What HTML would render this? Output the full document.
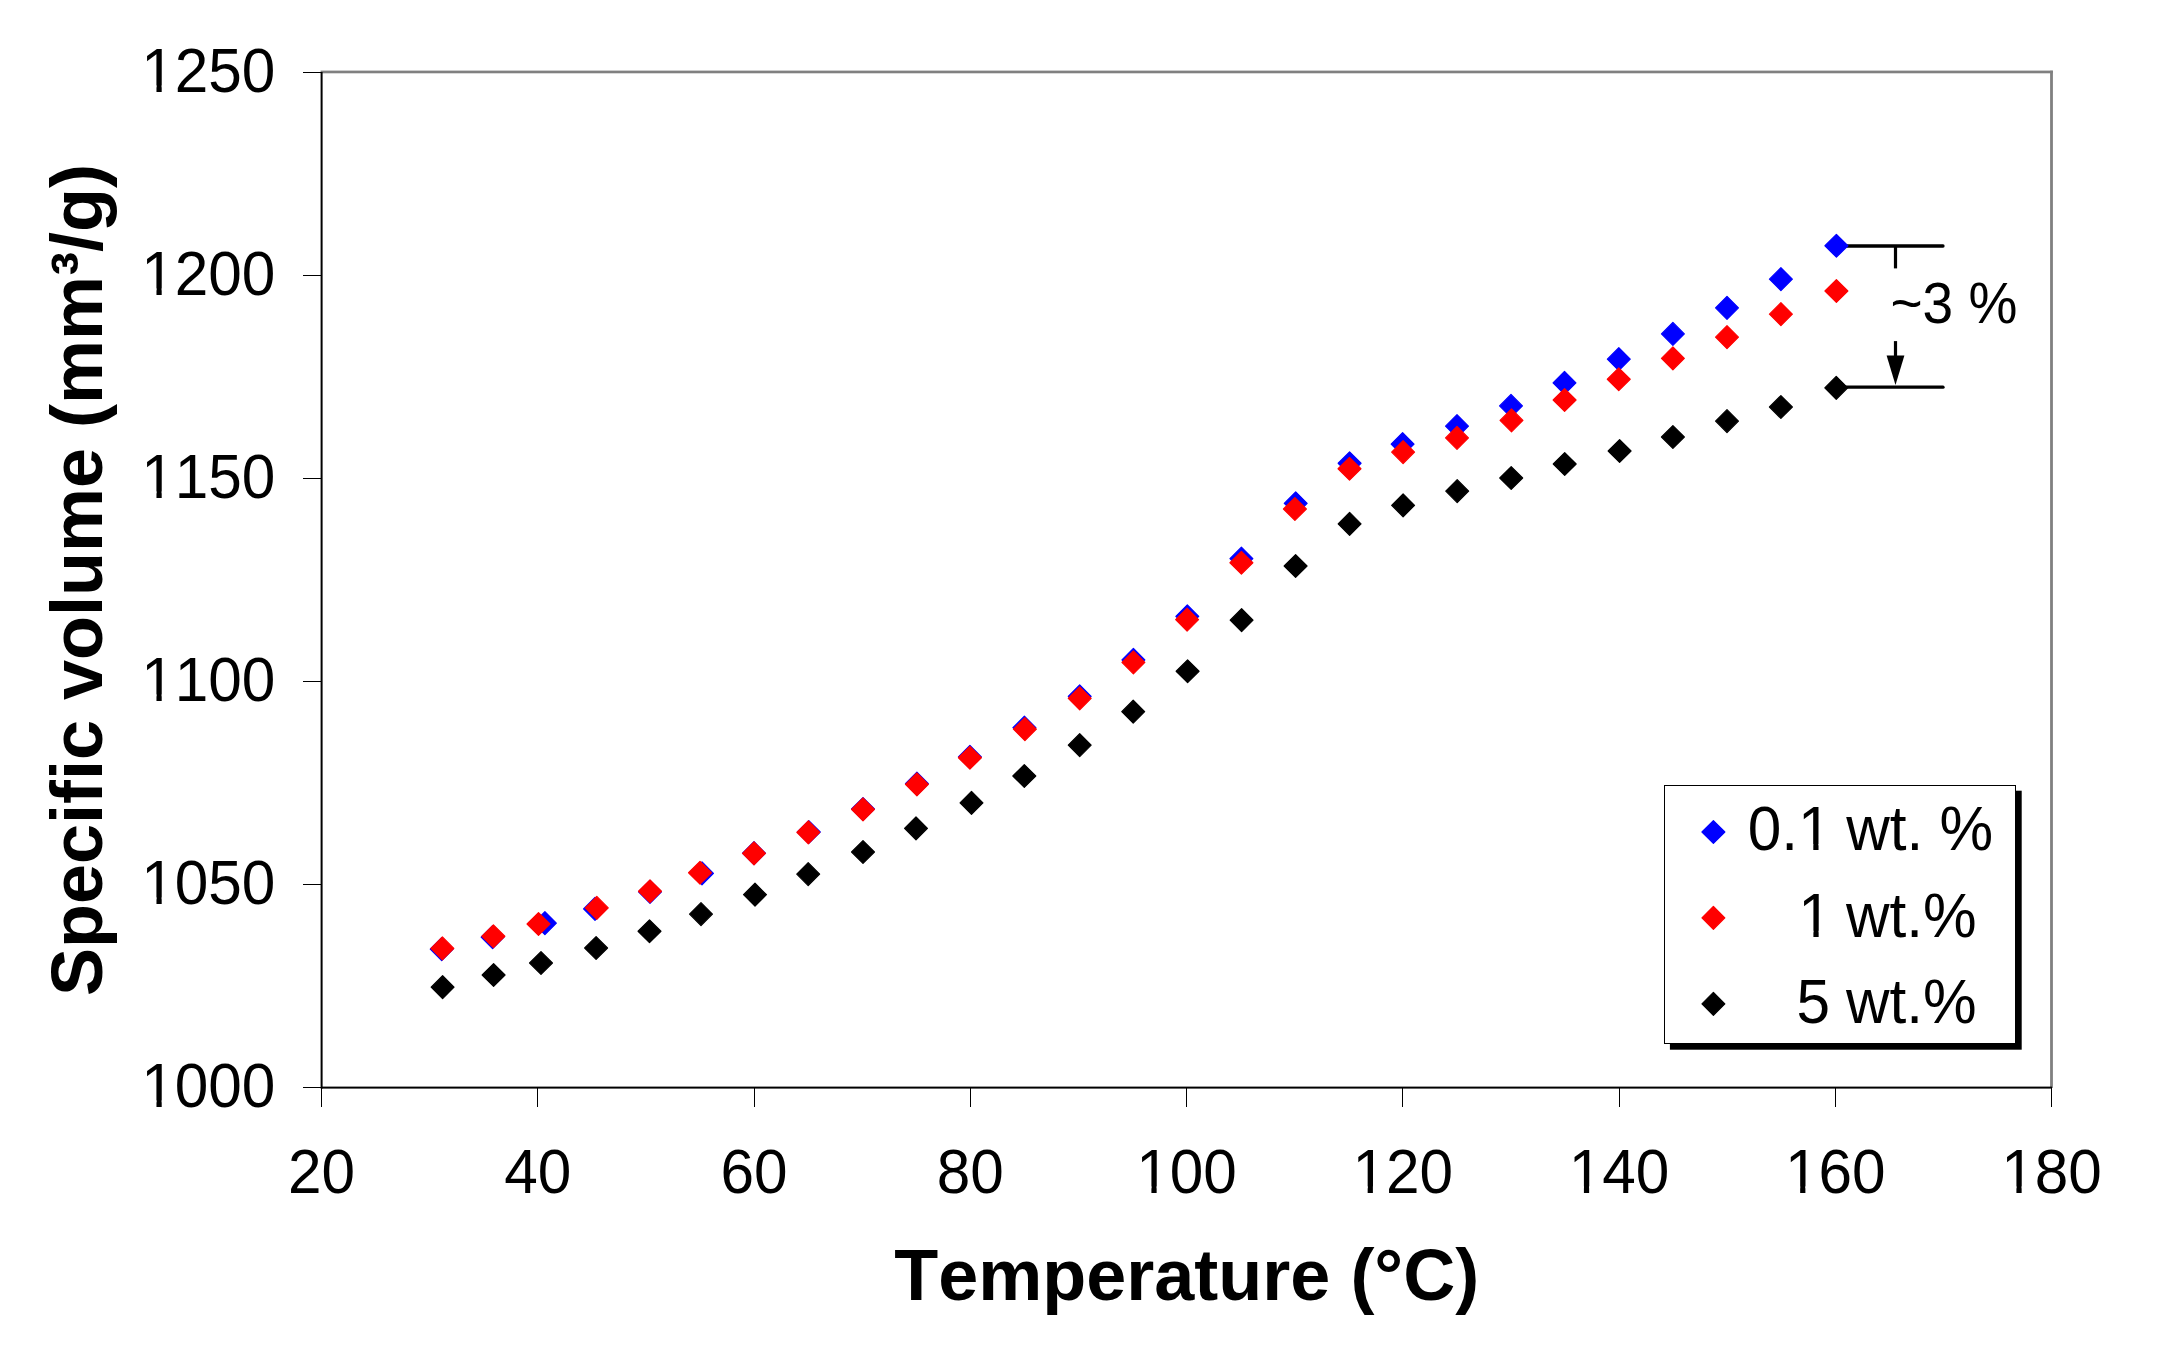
<!DOCTYPE html>
<html lang="en"><head><meta charset="utf-8"><title>Specific volume vs temperature</title>
<style>
html,body{margin:0;padding:0;background:#fff;}
body{width:2172px;height:1368px;overflow:hidden;}
svg{display:block;}
text{font-family:"Liberation Sans",Arial,Helvetica,sans-serif;fill:#000;font-kerning:none;font-variant-ligatures:none;}
.t text{font-size:60.3px;}
.b{font-size:72px;font-weight:bold;}
</style></head><body>
<svg width="2172" height="1368" viewBox="0 0 2172 1368">
<rect width="2172" height="1368" fill="#fff"/>
<g fill="#808080"><rect x="320.6" y="70.6" width="1732.3" height="2.7"/><rect x="2050.1" y="70.7" width="2.8" height="1017.3"/></g>
<g fill="#000"><rect x="320.6" y="72" width="2" height="1016.6"/><rect x="321" y="1086.6" width="1731" height="2"/><rect x="303" y="72.00" width="18.5" height="1"/><rect x="303" y="275.00" width="18.5" height="1"/><rect x="303" y="478.00" width="18.5" height="1"/><rect x="303" y="681.00" width="18.5" height="1"/><rect x="303" y="884.00" width="18.5" height="1"/><rect x="303" y="1087.00" width="18.5" height="1"/><rect x="321" y="1087" width="1" height="20"/><rect x="537" y="1087" width="1" height="20"/><rect x="754" y="1087" width="1" height="20"/><rect x="970" y="1087" width="1" height="20"/><rect x="1186" y="1087" width="1" height="20"/><rect x="1402" y="1087" width="1" height="20"/><rect x="1619" y="1087" width="1" height="20"/><rect x="1835" y="1087" width="1" height="20"/><rect x="2051" y="1087" width="1" height="20"/></g>
<g class="t"><text transform="translate(141.26 91.60) scale(1 1.04)">1250</text><text transform="translate(141.26 294.60) scale(1 1.04)">1200</text><text transform="translate(141.26 497.60) scale(1 1.04)">1150</text><text transform="translate(141.26 700.60) scale(1 1.04)">1100</text><text transform="translate(141.26 903.60) scale(1 1.04)">1050</text><text transform="translate(141.26 1106.60) scale(1 1.04)">1000</text></g>
<g class="t"><text transform="translate(287.96 1192.60) scale(1 1.04)">20</text><text transform="translate(504.21 1192.60) scale(1 1.04)">40</text><text transform="translate(720.46 1192.60) scale(1 1.04)">60</text><text transform="translate(936.71 1192.60) scale(1 1.04)">80</text><text transform="translate(1136.20 1192.60) scale(1 1.04)">100</text><text transform="translate(1352.45 1192.60) scale(1 1.04)">120</text><text transform="translate(1568.70 1192.60) scale(1 1.04)">140</text><text transform="translate(1784.95 1192.60) scale(1 1.04)">160</text><text transform="translate(2001.20 1192.60) scale(1 1.04)">180</text></g>
<text class="b" style="font-size:72px" text-anchor="middle" x="1186.7" y="1300">Temperature (°C)</text>
<text class="b" style="font-size:72px" text-anchor="middle" transform="translate(102 580) rotate(-90)">Specific volume (mm³/g)</text>
<g stroke="#000" stroke-width="3.3" stroke-linecap="round" fill="none"><path d="M1840 246H1943"/><path d="M1840 387.2H1943"/></g>
<g stroke="#000" stroke-width="3.2" fill="none"><path d="M1895.5 246V268.4"/><path d="M1895.5 341.1V358"/></g>
<path d="M1886.6 355.4H1904.4L1895.5 385Z" fill="#000"/>
<text transform="translate(1890.40 322.60) scale(1 1.04)" style="font-size:55px">~3 %</text>
<g fill="#0000ff" stroke="#0000ff" stroke-width="1.2" stroke-linejoin="round"><path d="M441.70 937.65L453.15 949.10L441.70 960.55L430.25 949.10Z"/><path d="M492.60 925.75L504.05 937.20L492.60 948.65L481.15 937.20Z"/><path d="M544.90 911.75L556.35 923.20L544.90 934.65L533.45 923.20Z"/><path d="M595.00 897.45L606.45 908.90L595.00 920.35L583.55 908.90Z"/><path d="M650.00 880.45L661.45 891.90L650.00 903.35L638.55 891.90Z"/><path d="M702.00 861.85L713.45 873.30L702.00 884.75L690.55 873.30Z"/><path d="M754.00 841.75L765.45 853.20L754.00 864.65L742.55 853.20Z"/><path d="M808.80 820.55L820.25 832.00L808.80 843.45L797.35 832.00Z"/><path d="M863.00 797.55L874.45 809.00L863.00 820.45L851.55 809.00Z"/><path d="M916.90 772.15L928.35 783.60L916.90 795.05L905.45 783.60Z"/><path d="M969.90 745.35L981.35 756.80L969.90 768.25L958.45 756.80Z"/><path d="M1024.40 716.25L1035.85 727.70L1024.40 739.15L1012.95 727.70Z"/><path d="M1079.70 684.85L1091.15 696.30L1079.70 707.75L1068.25 696.30Z"/><path d="M1133.40 648.45L1144.85 659.90L1133.40 671.35L1121.95 659.90Z"/><path d="M1187.30 604.85L1198.75 616.30L1187.30 627.75L1175.85 616.30Z"/><path d="M1241.40 547.15L1252.85 558.60L1241.40 570.05L1229.95 558.60Z"/><path d="M1295.70 491.85L1307.15 503.30L1295.70 514.75L1284.25 503.30Z"/><path d="M1349.60 451.80L1361.05 463.25L1349.60 474.70L1338.15 463.25Z"/><path d="M1402.60 432.65L1414.05 444.10L1402.60 455.55L1391.15 444.10Z"/><path d="M1457.00 414.75L1468.45 426.20L1457.00 437.65L1445.55 426.20Z"/><path d="M1511.00 394.45L1522.45 405.90L1511.00 417.35L1499.55 405.90Z"/><path d="M1564.50 371.45L1575.95 382.90L1564.50 394.35L1553.05 382.90Z"/><path d="M1618.80 347.75L1630.25 359.20L1618.80 370.65L1607.35 359.20Z"/><path d="M1672.90 322.45L1684.35 333.90L1672.90 345.35L1661.45 333.90Z"/><path d="M1727.00 296.35L1738.45 307.80L1727.00 319.25L1715.55 307.80Z"/><path d="M1780.90 267.75L1792.35 279.20L1780.90 290.65L1769.45 279.20Z"/><path d="M1836.40 234.30L1847.85 245.75L1836.40 257.20L1824.95 245.75Z"/></g>
<g fill="#ff0000" stroke="#ff0000" stroke-width="1.2" stroke-linejoin="round"><path d="M442.40 936.95L453.85 948.40L442.40 959.85L430.95 948.40Z"/><path d="M493.40 924.80L504.85 936.25L493.40 947.70L481.95 936.25Z"/><path d="M538.50 912.55L549.95 924.00L538.50 935.45L527.05 924.00Z"/><path d="M596.80 896.45L608.25 907.90L596.80 919.35L585.35 907.90Z"/><path d="M650.00 879.80L661.45 891.25L650.00 902.70L638.55 891.25Z"/><path d="M700.00 861.30L711.45 872.75L700.00 884.20L688.55 872.75Z"/><path d="M754.00 841.85L765.45 853.30L754.00 864.75L742.55 853.30Z"/><path d="M808.30 820.85L819.75 832.30L808.30 843.75L796.85 832.30Z"/><path d="M863.00 797.95L874.45 809.40L863.00 820.85L851.55 809.40Z"/><path d="M916.90 772.95L928.35 784.40L916.90 795.85L905.45 784.40Z"/><path d="M969.90 746.30L981.35 757.75L969.90 769.20L958.45 757.75Z"/><path d="M1024.90 717.75L1036.35 729.20L1024.90 740.65L1013.45 729.20Z"/><path d="M1079.70 686.85L1091.15 698.30L1079.70 709.75L1068.25 698.30Z"/><path d="M1133.40 650.95L1144.85 662.40L1133.40 673.85L1121.95 662.40Z"/><path d="M1187.10 608.15L1198.55 619.60L1187.10 631.05L1175.65 619.60Z"/><path d="M1241.40 551.30L1252.85 562.75L1241.40 574.20L1229.95 562.75Z"/><path d="M1294.90 497.55L1306.35 509.00L1294.90 520.45L1283.45 509.00Z"/><path d="M1349.50 457.30L1360.95 468.75L1349.50 480.20L1338.05 468.75Z"/><path d="M1403.10 440.65L1414.55 452.10L1403.10 463.55L1391.65 452.10Z"/><path d="M1457.00 426.45L1468.45 437.90L1457.00 449.35L1445.55 437.90Z"/><path d="M1511.50 408.95L1522.95 420.40L1511.50 431.85L1500.05 420.40Z"/><path d="M1564.60 388.55L1576.05 400.00L1564.60 411.45L1553.15 400.00Z"/><path d="M1618.75 367.80L1630.20 379.25L1618.75 390.70L1607.30 379.25Z"/><path d="M1672.90 346.95L1684.35 358.40L1672.90 369.85L1661.45 358.40Z"/><path d="M1727.00 325.75L1738.45 337.20L1727.00 348.65L1715.55 337.20Z"/><path d="M1780.90 302.75L1792.35 314.20L1780.90 325.65L1769.45 314.20Z"/><path d="M1836.40 279.55L1847.85 291.00L1836.40 302.45L1824.95 291.00Z"/></g>
<g fill="#000000" stroke="#000000" stroke-width="1.2" stroke-linejoin="round"><path d="M442.60 975.75L454.05 987.20L442.60 998.65L431.15 987.20Z"/><path d="M493.60 963.55L505.05 975.00L493.60 986.45L482.15 975.00Z"/><path d="M541.00 951.55L552.45 963.00L541.00 974.45L529.55 963.00Z"/><path d="M596.10 936.55L607.55 948.00L596.10 959.45L584.65 948.00Z"/><path d="M649.50 919.80L660.95 931.25L649.50 942.70L638.05 931.25Z"/><path d="M701.00 902.65L712.45 914.10L701.00 925.55L689.55 914.10Z"/><path d="M755.00 883.25L766.45 894.70L755.00 906.15L743.55 894.70Z"/><path d="M808.20 862.65L819.65 874.10L808.20 885.55L796.75 874.10Z"/><path d="M863.00 840.55L874.45 852.00L863.00 863.45L851.55 852.00Z"/><path d="M916.00 816.85L927.45 828.30L916.00 839.75L904.55 828.30Z"/><path d="M971.50 791.45L982.95 802.90L971.50 814.35L960.05 802.90Z"/><path d="M1024.30 764.55L1035.75 776.00L1024.30 787.45L1012.85 776.00Z"/><path d="M1079.70 733.65L1091.15 745.10L1079.70 756.55L1068.25 745.10Z"/><path d="M1133.20 700.25L1144.65 711.70L1133.20 723.15L1121.75 711.70Z"/><path d="M1187.60 659.80L1199.05 671.25L1187.60 682.70L1176.15 671.25Z"/><path d="M1241.60 608.75L1253.05 620.20L1241.60 631.65L1230.15 620.20Z"/><path d="M1295.60 554.55L1307.05 566.00L1295.60 577.45L1284.15 566.00Z"/><path d="M1349.60 512.45L1361.05 523.90L1349.60 535.35L1338.15 523.90Z"/><path d="M1403.10 493.85L1414.55 505.30L1403.10 516.75L1391.65 505.30Z"/><path d="M1457.20 479.65L1468.65 491.10L1457.20 502.55L1445.75 491.10Z"/><path d="M1511.20 466.55L1522.65 478.00L1511.20 489.45L1499.75 478.00Z"/><path d="M1564.70 452.55L1576.15 464.00L1564.70 475.45L1553.25 464.00Z"/><path d="M1619.60 439.55L1631.05 451.00L1619.60 462.45L1608.15 451.00Z"/><path d="M1672.90 425.55L1684.35 437.00L1672.90 448.45L1661.45 437.00Z"/><path d="M1727.00 409.65L1738.45 421.10L1727.00 432.55L1715.55 421.10Z"/><path d="M1780.90 395.55L1792.35 407.00L1780.90 418.45L1769.45 407.00Z"/><path d="M1836.25 376.35L1847.70 387.80L1836.25 399.25L1824.80 387.80Z"/></g>
<rect x="1669.9" y="790.7" width="351.8" height="259" fill="#000"/>
<rect x="1664.5" y="785.5" width="351" height="258" fill="#fff" stroke="#000" stroke-width="1"/>
<g fill="#0000ff" stroke="#0000ff" stroke-width="1.2" stroke-linejoin="round"><path d="M1713.40 820.55L1724.85 832.00L1713.40 843.45L1701.95 832.00Z"/></g><g fill="#ff0000" stroke="#ff0000" stroke-width="1.2" stroke-linejoin="round"><path d="M1713.40 906.35L1724.85 917.80L1713.40 929.25L1701.95 917.80Z"/></g><g fill="#000" stroke="#000" stroke-width="1.2" stroke-linejoin="round"><path d="M1713.40 992.45L1724.85 1003.90L1713.40 1015.35L1701.95 1003.90Z"/></g>
<g class="t"><text transform="translate(1747.80 850.40) scale(1 1.04)">0.1 <tspan dx="-2.08">wt.</tspan> <tspan dx="-0.65">%</tspan></text><text transform="translate(1798.20 937.00) scale(1 1.04)">1 <tspan dx="-2.49">wt.%</tspan></text><text transform="translate(1796.50 1023.10) scale(1 1.04)">5 <tspan dx="-0.69">wt.%</tspan></text></g>
<g fill="#fff"><rect x="144.65" y="85.31" width="11.82" height="7.29"/><rect x="161.70" y="85.31" width="11.35" height="7.29"/><rect x="144.65" y="288.31" width="11.82" height="7.29"/><rect x="161.70" y="288.31" width="11.35" height="7.29"/><rect x="144.65" y="491.31" width="11.82" height="7.29"/><rect x="161.70" y="491.31" width="11.35" height="7.29"/><rect x="144.65" y="694.31" width="11.82" height="7.29"/><rect x="161.70" y="694.31" width="11.35" height="7.29"/><rect x="144.65" y="897.31" width="11.82" height="7.29"/><rect x="161.70" y="897.31" width="11.35" height="7.29"/><rect x="144.65" y="1100.31" width="11.82" height="7.29"/><rect x="161.70" y="1100.31" width="11.35" height="7.29"/><rect x="1139.59" y="1186.31" width="11.82" height="7.29"/><rect x="1156.64" y="1186.31" width="11.35" height="7.29"/><rect x="1355.84" y="1186.31" width="11.82" height="7.29"/><rect x="1372.89" y="1186.31" width="11.35" height="7.29"/><rect x="1572.09" y="1186.31" width="11.82" height="7.29"/><rect x="1589.14" y="1186.31" width="11.35" height="7.29"/><rect x="1788.34" y="1186.31" width="11.82" height="7.29"/><rect x="1805.39" y="1186.31" width="11.35" height="7.29"/><rect x="2004.59" y="1186.31" width="11.82" height="7.29"/><rect x="2021.64" y="1186.31" width="11.35" height="7.29"/><rect x="1801.48" y="844.11" width="11.82" height="7.29"/><rect x="1818.53" y="844.11" width="11.35" height="7.29"/><rect x="1801.59" y="930.71" width="11.82" height="7.29"/><rect x="1818.64" y="930.71" width="11.35" height="7.29"/></g>
</svg>
</body></html>
